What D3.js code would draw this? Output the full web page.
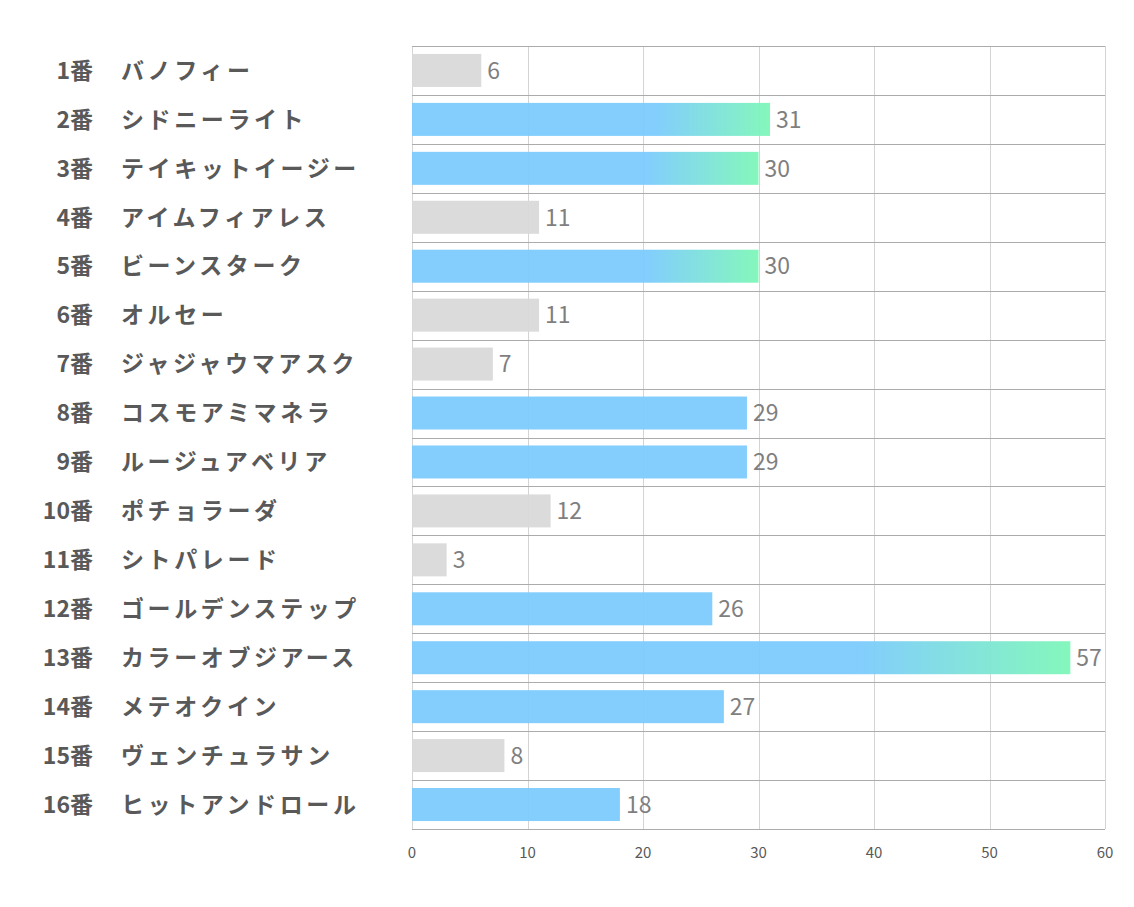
<!DOCTYPE html>
<html>
<head>
  <meta charset="utf-8">
  <title>chart</title>
  <script src="https://cdn.jsdelivr.net/npm/d3@7"></script>
  <style>
    body { margin: 0; background: #fff; }
    text { font-family: "Noto Sans CJK JP", "Noto Sans", sans-serif; }
  </style>
</head>
<body>
<script>
// 馬番と馬名
var numbers = ["1番","2番","3番","4番","5番","6番","7番","8番","9番","10番","11番","12番","13番","14番","15番","16番"];
var names = ["バノフィー","シドニーライト","テイキットイージー","アイムフィアレス","ビーンスターク","オルセー",
             "ジャジャウマアスク","コスモアミマネラ","ルージュアベリア","ポチョラーダ","シトパレード",
             "ゴールデンステップ","カラーオブジアース","メテオクイン","ヴェンチュラサン","ヒットアンドロール"];
var values = [6, 31, 30, 11, 30, 11, 7, 29, 29, 12, 3, 26, 57, 27, 8, 18];
var ticks = [0, 10, 20, 30, 40, 50, 60];

var breite = 1134, hoehe = 907;
var plotLeft = 412, plotRight = 1105, plotTop = 46, plotBottom = 829;

var svg = d3.select("body").append("svg")
  .attr("width", breite)
  .attr("height", hoehe);

var x = d3.scaleLinear().domain([0, 60]).range([plotLeft, plotRight]);
var y = d3.scaleBand().domain(d3.range(values.length)).range([plotTop, plotBottom]);

// グラデーション
var grad = svg.append("defs").append("linearGradient")
  .attr("id", "grad")
  .attr("x1", "0").attr("x2", "1").attr("y1", "0").attr("y2", "0");
grad.append("stop").attr("offset", "0.68").attr("stop-color", "#7ccbfd");
grad.append("stop").attr("offset", "1").attr("stop-color", "#7ef7b8");

// 縦グリッド
svg.append("g").selectAll("line")
  .data(ticks)
  .enter().append("line")
  .attr("x1", function(d) { return Math.round(x(d)) + 0.5; })
  .attr("x2", function(d) { return Math.round(x(d)) + 0.5; })
  .attr("y1", plotTop)
  .attr("y2", plotBottom)
  .attr("stroke", "#d4d4d4")
  .attr("stroke-width", 1);

// 横の区切り線
svg.append("g").selectAll("line")
  .data(d3.range(values.length + 1))
  .enter().append("line")
  .attr("x1", plotLeft)
  .attr("x2", plotRight)
  .attr("y1", function(d) { return Math.round(plotTop + d * y.step()) + 0.5; })
  .attr("y2", function(d) { return Math.round(plotTop + d * y.step()) + 0.5; })
  .attr("stroke", "#ababab")
  .attr("stroke-width", 1);

var barH = 33;

// 棒
svg.append("g").selectAll("rect")
  .data(values)
  .enter().append("rect")
  .attr("x", x(0))
  .attr("y", function(d, i) { return y(i) + (y.bandwidth() - barH) / 2; })
  .attr("width", function(d) { return x(d) - x(0); })
  .attr("height", barH)
  .attr("fill", function(d) {
    if (d >= 30) return "url(#grad)";
    if (d >= 15) return "#7ccbfd";
    return "#d9d9d9";
  })
  .attr("fill-opacity", 0.95);

// 値ラベル
svg.append("g").selectAll("text")
  .data(values)
  .enter().append("text")
  .attr("x", function(d) { return x(d) + 6; })
  .attr("y", function(d, i) { return y(i) + y.bandwidth() / 2; })
  .attr("dy", "0.36em")
  .attr("font-size", 23)
  .attr("fill", "#7f7f7f")
  .text(function(d) { return d; });

// 馬番
svg.append("g").selectAll("text")
  .data(numbers)
  .enter().append("text")
  .attr("x", 93)
  .attr("y", function(d, i) { return y(i) + y.bandwidth() / 2; })
  .attr("dy", "0.36em")
  .attr("text-anchor", "end")
  .attr("font-size", 23)
  .attr("font-weight", "bold")
  .attr("fill", "#595959")
  .text(function(d) { return d; });

// 馬名
svg.append("g").selectAll("text")
  .data(names)
  .enter().append("text")
  .attr("x", 121)
  .attr("y", function(d, i) { return y(i) + y.bandwidth() / 2; })
  .attr("dy", "0.36em")
  .attr("font-size", 23)
  .attr("font-weight", "bold")
  .attr("letter-spacing", 3.6)
  .attr("fill", "#595959")
  .text(function(d) { return d; });

// X軸
svg.append("g").selectAll("text")
  .data(ticks)
  .enter().append("text")
  .attr("x", function(d) { return x(d); })
  .attr("y", 853)
  .attr("dy", "0.36em")
  .attr("text-anchor", "middle")
  .attr("font-size", 15)
  .attr("fill", "#595959")
  .text(function(d) { return d; });
</script>
</body>
</html>
